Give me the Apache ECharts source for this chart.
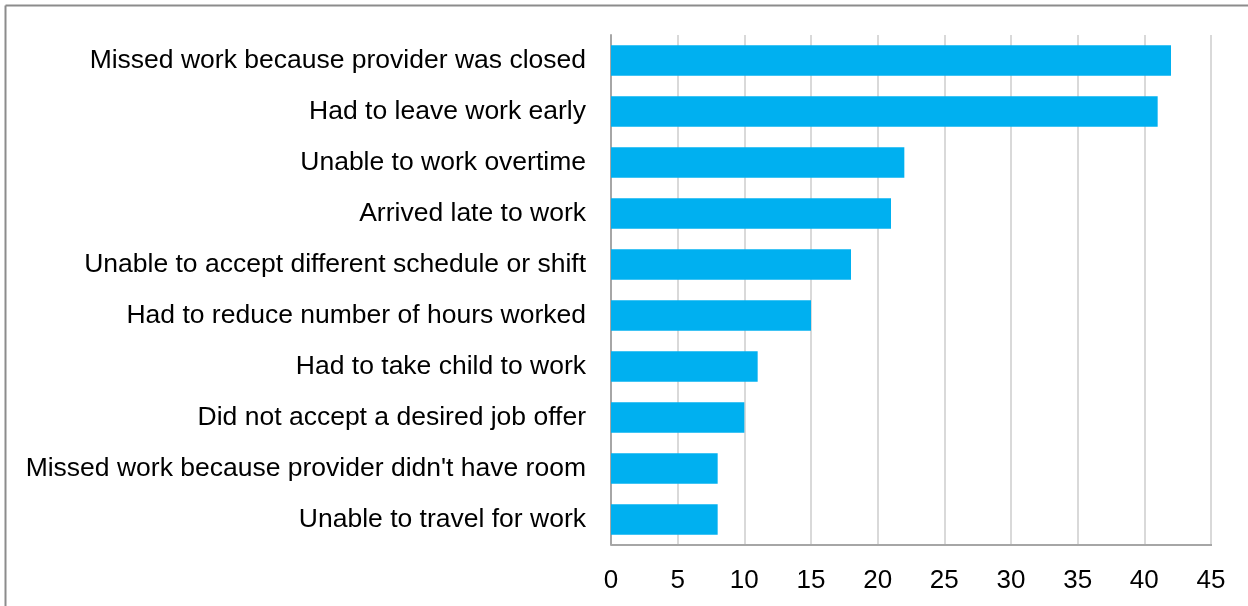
<!DOCTYPE html>
<html>
<head>
<meta charset="utf-8">
<script src="https://cdn.jsdelivr.net/npm/echarts@6/dist/echarts.min.js"></script>
<style>
html,body{margin:0;padding:0;background:#fff;}
#chart{width:1248px;height:606px;}
</style>
</head>
<body>
<div id="chart"></div>
<script>
const categories = [
  "Missed work because provider was closed",
  "Had to leave work early",
  "Unable to work overtime",
  "Arrived late to work",
  "Unable to accept different schedule or shift",
  "Had to reduce number of hours worked",
  "Had to take child to work",
  "Did not accept a desired job offer",
  "Missed work because provider didn't have room",
  "Unable to travel for work"
];
const values = [42, 41, 22, 21, 18, 15, 11, 10, 8, 8];
const xTicks = [0, 5, 10, 15, 20, 25, 30, 35, 40, 45];

// detect a narrow font; fall back to regular sans at a width-matched size
const cv = document.createElement('canvas').getContext('2d');
function w(f) { cv.font = f; return cv.measureText(categories[0]).width; }
const narrowW = w('32px "Liberation Sans Narrow", monospace');
const monoW = w('32px monospace');
const hasNarrow = Math.abs(narrowW - monoW) > 1;
const font = hasNarrow ? '"Liberation Sans Narrow", "Arial Narrow", sans-serif' : '"Liberation Sans", Arial, sans-serif';
const catSize = hasNarrow ? 32 : 26.5;
const tickSize = hasNarrow ? 32 : 26;

const chart = echarts.init(document.getElementById('chart'), null, {renderer: 'canvas'});
chart.setOption({
  animation: false,
  backgroundColor: '#ffffff',
  grid: {left: 611, right: 37, top: 35, bottom: 61, containLabel: false},
  xAxis: {
    type: 'value',
    min: xTicks[0],
    max: xTicks[xTicks.length - 1],
    interval: 5,
    axisLine: {show: false},
    axisTick: {show: false},
    splitLine: {show: true, lineStyle: {color: '#d9d9d9', width: 2}},
    axisLabel: {color: '#000', fontSize: tickSize, fontFamily: font, margin: 23}
  },
  yAxis: {
    type: 'category',
    inverse: true,
    data: categories,
    axisLine: {show: true, lineStyle: {color: '#a6a6a6', width: 2}},
    axisTick: {show: false},
    axisLabel: {color: '#000', fontSize: catSize, fontFamily: font, margin: 25}
  },
  series: [{
    type: 'bar',
    data: values,
    barCategoryGap: '40%',
    itemStyle: {color: '#00b0f0'}
  }]
});
const gridRect = chart.getModel().getComponent('grid').coordinateSystem.getRect();
chart.setOption({
  graphic: [
    {type: 'line', shape: {x1: 5.5, y1: 5.5, x2: 1248, y2: 5.5}, style: {stroke: '#8c8c8c', lineWidth: 2}},
    {type: 'line', shape: {x1: 5.5, y1: 5.5, x2: 5.5, y2: 606}, style: {stroke: '#8c8c8c', lineWidth: 2}},
    {type: 'line', shape: {x1: gridRect.x, y1: gridRect.y + gridRect.height, x2: gridRect.x + gridRect.width + 1, y2: gridRect.y + gridRect.height}, style: {stroke: '#a6a6a6', lineWidth: 2}}
  ]
});
</script>
</body>
</html>
